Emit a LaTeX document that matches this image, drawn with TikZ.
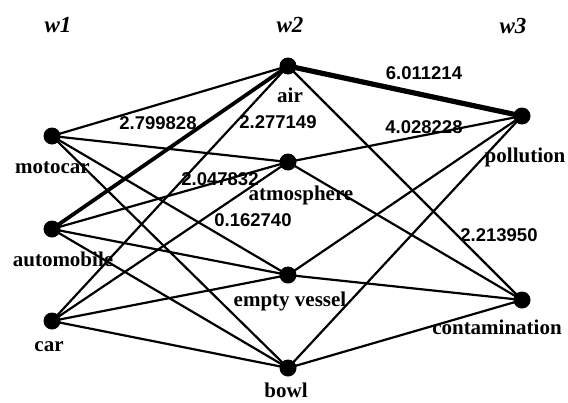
\documentclass[tikz,border=0pt]{standalone}
\usepackage{fontspec}
\setmainfont{Liberation Serif}
\newfontfamily\numfont{Liberation Sans}
\begin{document}
\begin{tikzpicture}[x=1pt,y=-1pt,
  dot/.style={circle,fill=black,inner sep=0pt,minimum size=17pt},
  lbl/.style={font=\fontsize{21}{21}\selectfont\bfseries,inner sep=0pt},
  head/.style={font=\fontsize{23}{23}\selectfont\bfseries\itshape,inner sep=0pt},
  num/.style={font=\fontsize{18.5}{18.5}\selectfont\numfont\bfseries,inner sep=0pt},
  edge/.style={line width=2.2pt},
  thick1/.style={line width=3.8pt},
  thick2/.style={line width=5.2pt}]
\useasboundingbox (0,0) rectangle (568,402);
\coordinate (motocar) at (52,136);
\coordinate (automobile) at (52,229);
\coordinate (car) at (52,321);
\coordinate (air) at (288,66);
\coordinate (atmosphere) at (288,162);
\coordinate (vessel) at (288,275);
\coordinate (bowl) at (288,368);
\coordinate (pollution) at (522,116);
\coordinate (contamination) at (522,300);
% edges w1 - w2
\foreach \a in {motocar,automobile,car}{
  \foreach \b in {atmosphere,vessel,bowl}{
    \draw[edge] (\a) -- (\b);
  }
}
\draw[edge] (motocar) -- (air);
\draw[thick1] (automobile) -- (air);
\draw[edge] (car) -- (air);
% edges w2 - w3
\draw[thick2] (air) -- (pollution);
\draw[edge] (air) -- (contamination);
\foreach \a in {atmosphere,vessel,bowl}{
  \draw[edge] (\a) -- (pollution);
  \draw[edge] (\a) -- (contamination);
}
% dots
\foreach \n in {motocar,automobile,car,air,atmosphere,vessel,bowl,pollution,contamination}{
  \node[dot] (d\n) at (\n) {};
}
% headers
\node[head] (w1) at (58,25) {w1};
\node[head] (w2) at (290,25) {w2};
\node[head] (w3) at (513,26) {w3};
% labels
\node[lbl] (lmotocar) at (52.5,168) {motocar};
\node[lbl] (lautomobile) at (63,259) {automobile};
\node[lbl] (lcar) at (49,347) {car};
\node[lbl] (lair) at (290,95) {air};
\node[lbl] (latmosphere) at (301,195) {atmosphere};
\node[lbl] (lvessel) at (290,301) {empty vessel};
\node[lbl] (lbowl) at (286,390) {bowl};
\node[lbl] (lpollution) at (525,157) {pollution};
\node[lbl] (lcontamination) at (497,327) {contamination};
% weights
\node[num] (n1) at (424,73) {6.011214};
\node[num] (n2) at (158,123) {2.799828};
\node[num] (n3) at (278,122) {2.277149};
\node[num] (n4) at (424,127) {4.028228};
\node[num] (n5) at (220,179) {2.047832};
\node[num] (n6) at (253,220) {0.162740};
\node[num] (n7) at (499,235) {2.213950};
\end{tikzpicture}
\end{document}
